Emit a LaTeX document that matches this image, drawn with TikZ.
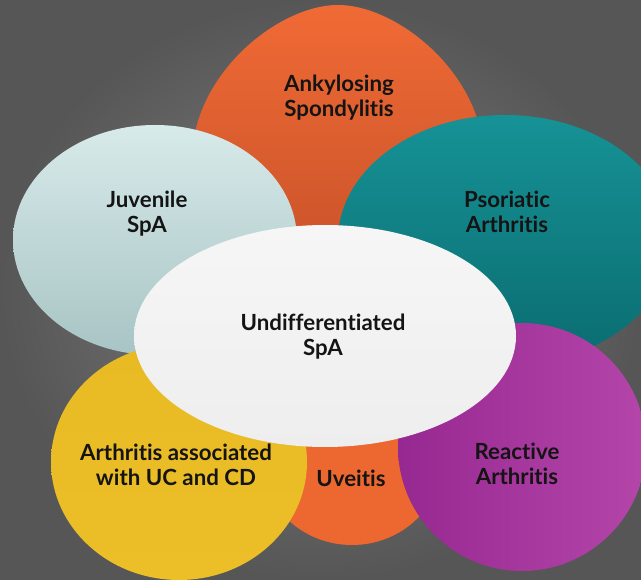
\documentclass[tikz,border=0pt]{standalone}
\usepackage{fontspec}
\setmainfont{Lato}[Ligatures={NoCommon,NoRare}]
\definecolor{orT}{RGB}{240,106,53}
\definecolor{orB}{RGB}{196,80,40}
\definecolor{teT}{RGB}{22,146,150}
\definecolor{teB}{RGB}{10,108,112}
\definecolor{ltT}{RGB}{216,234,234}
\definecolor{ltB}{RGB}{168,196,196}
\definecolor{uvC}{RGB}{236,104,48}
\definecolor{yeT}{RGB}{232,186,36}
\definecolor{yeM}{RGB}{222,176,34}
\definecolor{yeB}{RGB}{236,190,40}
\definecolor{puL}{RGB}{150,40,145}
\definecolor{puR}{RGB}{180,70,170}
\definecolor{whT}{RGB}{246,246,246}
\definecolor{whM}{RGB}{214,214,214}
\definecolor{whB}{RGB}{238,238,238}
\definecolor{bgI}{RGB}{128,128,128}
\definecolor{bgO}{RGB}{86,86,86}
\begin{document}
\begin{tikzpicture}[x=0.75pt,y=-0.75pt,
  lbl/.style={font=\fontsize{16.7}{18.75}\selectfont\bfseries, text=black!92, align=center, inner sep=0pt}]
\useasboundingbox (0,0) rectangle (641,580);
% background
\shade[inner color=bgI, outer color=bgO] (0,0) rectangle (641,580);
% Ankylosing egg
\shade[top color=orT, bottom color=orB]
  (338,5) .. controls (398,5) and (484,75) .. (484,160)
  .. controls (484,240) and (420,300) .. (338,300)
  .. controls (256,300) and (192,240) .. (192,160)
  .. controls (192,75) and (278,5) .. (338,5) -- cycle;
% teal
\shade[shading angle=35, top color=teT, bottom color=teB]
  (505,240) ellipse [x radius=167, y radius=125];
% juvenile (light)
\shade[shading angle=-20, top color=ltT, bottom color=ltB]
  (155,240) ellipse [x radius=142, y radius=115];
% uveitis orange
\fill[uvC] (352,460) ellipse [x radius=90, y radius=85];
% yellow
\shade[top color=yeT, middle color=yeM, bottom color=yeB]
  (179,462) ellipse [x radius=128, y radius=118];
% purple
\shade[left color=puL, right color=puR]
  (522,447) ellipse [x radius=124, y radius=124];
% white centre
\shade[top color=whT, middle color=whM, bottom color=whB]
  (325,336) ellipse [x radius=191, y radius=111];
% labels
\node[lbl] (as) at (339,97.5) {Ankylosing\\Spondylitis};
\node[lbl] (jsp) at (147,214) {Juvenile\\SpA};
\node[lbl] (psa) at (507,212) {Psoriatic\\Arthritis};
\node[lbl] (usp) at (323,337) {Undifferentiated\\SpA};
\node[lbl] (ucd) at (176,464.5) {Arthritis associated\\with UC and CD};
\node[lbl] (uv) at (351,478.5) {Uveitis};
\node[lbl] (rea) at (517,464) {Reactive\\Arthritis};
\end{tikzpicture}
\end{document}
